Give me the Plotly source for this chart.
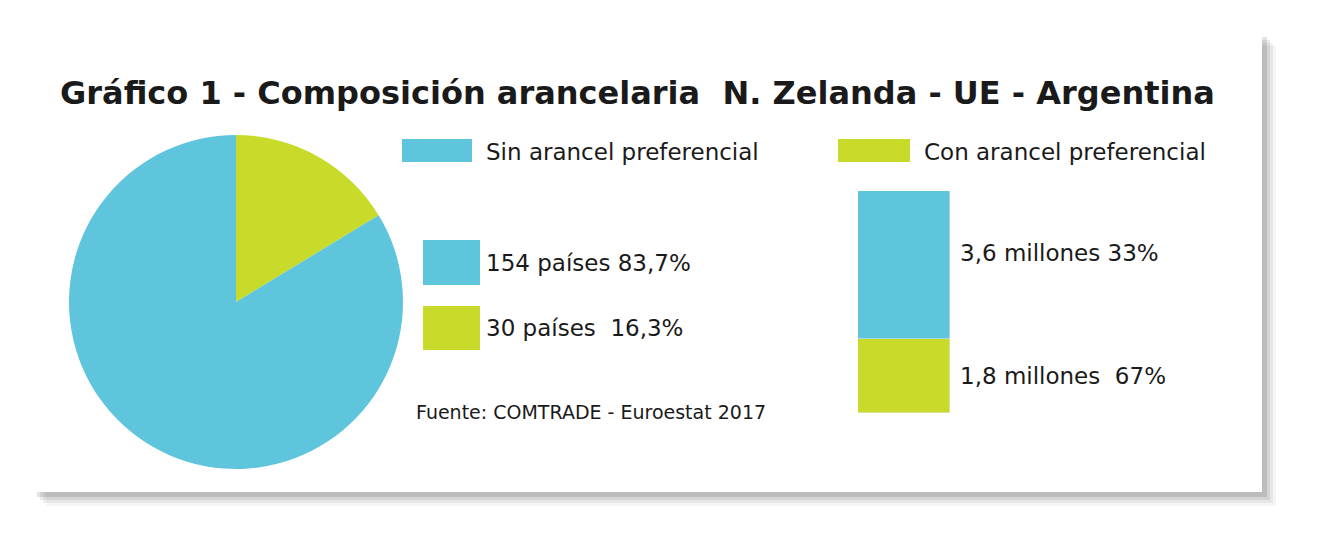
import plotly.graph_objects as go

W, H = 1326, 558
pie_labels = ["Con arancel preferencial", "Sin arancel preferencial"]
pie_values = [16.3, 83.7]
bar_cats = ["Sin arancel preferencial", "Con arancel preferencial"]
bar_values = [3.6, 1.8]
BLUE, GREEN = "#5EC5DD", "#C8DB2A"
OFF = 8  # page body margin

def px(x): return (x - OFF) / W
def py(y): return 1 - (y - OFF) / H

fig = go.Figure()
fig.add_trace(go.Pie(labels=pie_labels, values=pie_values, sort=False, direction="clockwise",
                     rotation=0, marker=dict(colors=[GREEN, BLUE]), textinfo="none",
                     hoverinfo="label+percent", showlegend=False,
                     domain=dict(x=[px(69), px(403)], y=[py(469), py(135)])))
fig.add_trace(go.Bar(x=[0], y=[bar_values[1]], marker_color=GREEN, width=1, showlegend=False))
fig.add_trace(go.Bar(x=[0], y=[bar_values[0]], marker_color=BLUE, width=1, showlegend=False))

shapes = []
for i, op in enumerate([0.04, 0.06, 0.08, 0.11]):
    d = 14 - i * 3
    shapes.append(dict(type="rect", xref="paper", yref="paper", x0=px(32 + d), x1=px(1262 + d),
                       y0=py(492 + d), y1=py(32 + d), fillcolor=f"rgba(0,0,0,{op})", line_width=0, layer="below"))
shapes.append(dict(type="rect", xref="paper", yref="paper", x0=px(32), x1=px(1262), y0=py(492), y1=py(32),
                   fillcolor="white", line_width=0, layer="below"))
for (x0, x1, y0, y1, c) in [(402, 472, 139, 162, BLUE), (838, 910, 139, 162, GREEN),
                            (423, 480, 240, 285, BLUE), (423, 480, 306, 350, GREEN)]:
    shapes.append(dict(type="rect", xref="paper", yref="paper", x0=px(x0), x1=px(x1), y0=py(y1), y1=py(y0),
                       fillcolor=c, line_width=0))

F = "DejaVu Sans"
def t(x, y, s, size, bold=False):
    return dict(xref="paper", yref="paper", x=px(x), y=py(y), text=f"<b>{s}</b>" if bold else s,
                showarrow=False, xanchor="left", yanchor="middle", font=dict(family=F, size=size, color="#1a1a1a"))

annotations = [
    t(58, 93, "Gráfico 1 - Composición arancelaria  N. Zelanda - UE - Argentina", 32, True),
    t(484, 152, "Sin arancel preferencial", 23),
    t(922, 152, "Con arancel preferencial", 23),
    t(484, 263, "154 países 83,7%", 23),
    t(484, 328, "30 países  16,3%", 23),
    t(414, 412, "Fuente: COMTRADE - Euroestat 2017", 19),
    t(958, 253, "3,6 millones 33%", 23),
    t(958, 376, "1,8 millones  67%", 23),
]

fig.update_layout(width=W, height=H, margin=dict(l=0, r=0, t=0, b=0), barmode="stack",
                  paper_bgcolor="white", plot_bgcolor="rgba(0,0,0,0)", shapes=shapes, annotations=annotations,
                  xaxis=dict(domain=[px(858), px(950)], range=[-0.5, 0.5], visible=False, fixedrange=True),
                  yaxis=dict(domain=[py(413), py(191)], range=[0, sum(bar_values)], visible=False, fixedrange=True),
                  bargap=0)
fig.write_html("out.html")
